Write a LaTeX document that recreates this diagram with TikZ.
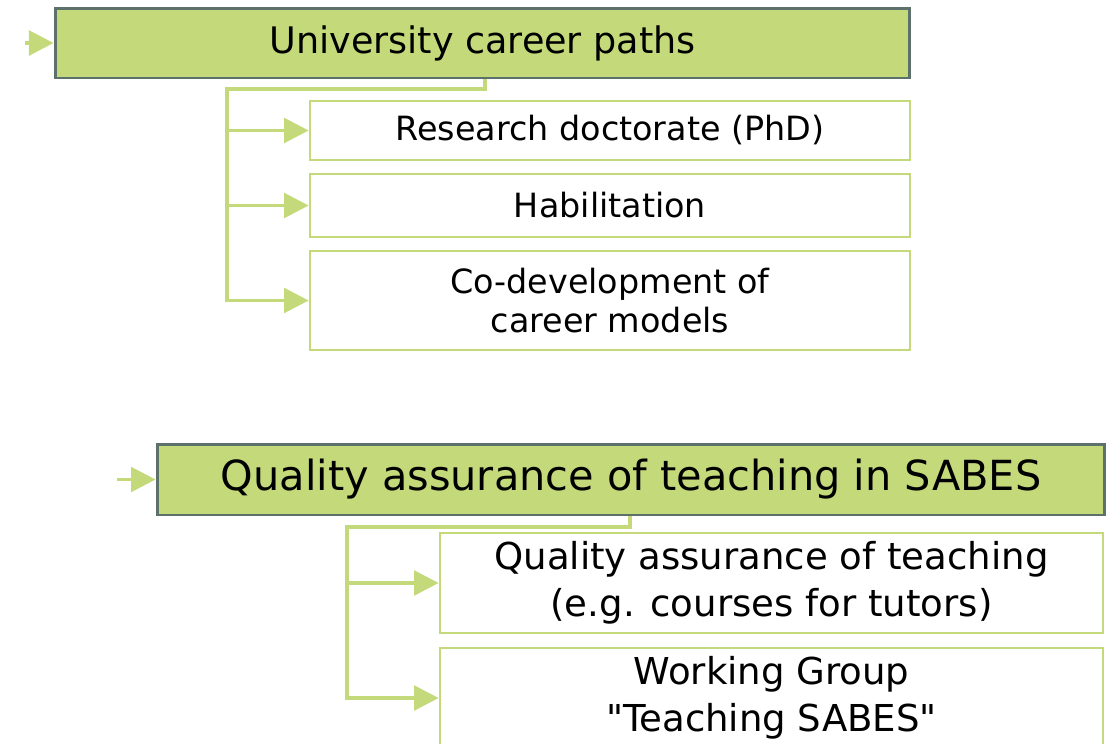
\documentclass[tikz,border=0pt]{standalone}
\usepackage{fontspec}
\setmainfont{DejaVu Sans}
\usetikzlibrary{arrows.meta}
\definecolor{leaf}{HTML}{C3D97A}
\definecolor{rim}{HTML}{5C706C}
\tikzset{
  head/.style={draw=rim, line width=1.7pt, fill=leaf, inner sep=0pt},
  item/.style={draw=leaf, line width=1.6pt, fill=white, align=center, inner sep=0pt},
  feed/.style={draw=leaf, line width=2pt, -{Triangle[length=14pt,width=14pt]}},
}
\begin{document}
\begin{tikzpicture}[x=0.02cm, y=-0.02cm]
  \useasboundingbox (0,0) rectangle (1110,744);
  \clip (0,0) rectangle (1110,744);
  % upper group
  \node[head, minimum width=17.1cm, minimum height=1.4cm,
        font=\fontsize{20.8}{24}\selectfont] (uc) at (482.5,43) {University career paths};
  \node[item, minimum width=12cm, minimum height=1.18cm,
        font=\fontsize{19}{22.7}\selectfont] (phd) at (610,130.5) {Research doctorate (PhD)};
  \node[item, minimum width=12cm, minimum height=1.26cm,
        font=\fontsize{19}{22.7}\selectfont] (hab) at (610,205.5) {Habilitation};
  \node[item, minimum width=12cm, minimum height=1.98cm,
        font=\fontsize{19}{22.7}\selectfont] (codev) at (610,300.5) {Co-development of\\career models};
  \coordinate (inA) at (25,43);
  \draw[feed] (inA) -- (uc.west);
  \draw[feed] (uc.south -| 485,0) |- (227,89) |- (phd.west);
  \draw[feed] (227,89) |- (hab.west);
  \draw[feed] (227,89) |- (codev.west);
  % lower group
  \node[head, minimum width=18.96cm, minimum height=1.42cm,
        font=\fontsize{23.6}{28}\selectfont] (qa) at (631,479.5) {Quality assurance of teaching in SABES};
  \node[item, minimum width=13.26cm, minimum height=2cm,
        font=\fontsize{21.1}{26.6}\selectfont] (qat) at (771.5,583) {Quality assurance of teaching\\(e.g. courses for tutors)};
  \node[item, minimum width=13.26cm, minimum height=2cm,
        font=\fontsize{21.1}{26.6}\selectfont] (wg) at (771.5,698) {Working Group\\\textquotedbl Teaching SABES\textquotedbl};
  \coordinate (inB) at (117,479.5);
  \draw[feed] (inB) -- (qa.west);
  \draw[feed] (qa.south -| 630,0) |- (347,527) |- (qat.west);
  \draw[feed] (347,527) |- (wg.west);
\end{tikzpicture}
\end{document}
